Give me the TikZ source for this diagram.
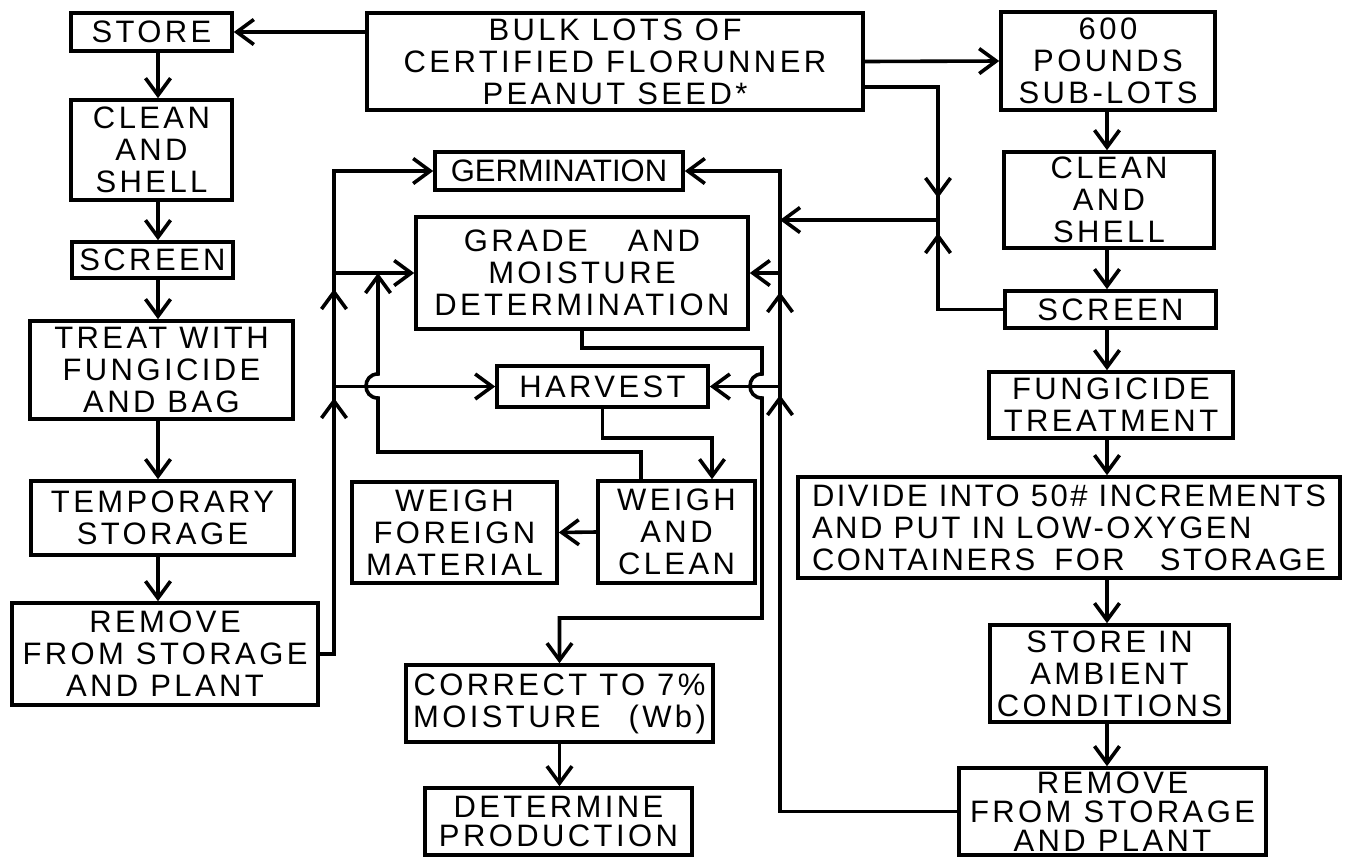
\documentclass[tikz,border=0pt]{standalone}
\usepackage{fontspec}
\setmainfont{Liberation Sans}
\newfontfamily\lt[LetterSpace=11]{Liberation Sans}
\newfontfamily\ltm[LetterSpace=8]{Liberation Sans}
\newfontfamily\ltn{Liberation Sans}
\usetikzlibrary{arrows.meta}
\tikzset{
  box/.style={draw, inner sep=0pt, align=center, font=\lt\fontsize{15.5}{16}\selectfont},
  tight/.style={font=\lt\fontsize{15.5}{14.5}\selectfont},
  arr/.style={-{Straight Barb[length=8.5pt,width=12.5pt]}},
}
\newcommand\bx[7][]{\node[box,#1,minimum width={(#5-#3)*0.5pt},minimum height={(#6-#4)*0.5pt}] (#2) at ({(#3+#5)/2},{(#4+#6)/2}) {#7};}
\begin{document}
\begin{tikzpicture}[x=0.5pt,y=-0.5pt,line width=1.8pt]
\useasboundingbox (0,0) rectangle (1348,858);
% left column
\bx{store}{71}{13}{232}{51}{STORE}
\bx{cleanA}{71}{100}{232}{200}{CLEAN\\AND\\SHELL}
\bx{screenA}{72}{242}{233}{278}{SCREEN}
\bx{treat}{30}{321}{293}{419}{TREAT WITH\\FUNGICIDE\\AND BAG}
\bx{temp}{31}{481}{294}{555}{TEMPORARY\\STORAGE}
\bx{removeA}{12}{603}{318}{705}{REMOVE\\FROM STORAGE\\AND PLANT}
% top
\bx{bulk}{367}{13}{863}{110}{BULK LOTS OF\\CERTIFIED FLORUNNER\\PEANUT SEED*}
\bx{sub}{1001}{12}{1215}{110}{600\\POUNDS\\SUB-LOTS}
% right column
\bx{cleanB}{1004}{152}{1214}{248}{CLEAN\\AND\\SHELL}
\bx{screenB}{1005}{291}{1216}{328}{SCREEN}
\bx{fung}{989}{372}{1233}{438}{FUNGICIDE\\TREATMENT}
\bx[align=left,font=\ltm\fontsize{15.5}{16}\selectfont]{divide}{798}{477}{1340}{578}{DIVIDE INTO 50\# INCREMENTS\\AND PUT IN LOW-OXYGEN\\CONTAINERS\hspace{4pt} FOR\hspace{12pt} STORAGE}
\bx{amb}{990}{625}{1229}{722}{STORE IN\\AMBIENT\\CONDITIONS}
\bx[tight]{removeB}{959}{768}{1266}{855}{REMOVE\\FROM STORAGE\\AND PLANT}
% middle
\bx[font=\ltn\fontsize{15.5}{16}\selectfont]{germ}{435}{152}{683}{190}{GERMINATION}
\bx{grade}{416}{217}{748}{329}{GRADE\hspace{14pt} AND\\MOISTURE\\DETERMINATION}
\bx{harv}{497}{366}{708}{407}{HARVEST}
\bx{wfm}{352}{482}{557}{583}{WEIGH\\FOREIGN\\MATERIAL}
\bx{wac}{598}{481}{755}{583}{WEIGH\\AND\\CLEAN}
\bx{corr}{406}{665}{713}{742}{CORRECT TO 7\%\\MOISTURE\hspace{8pt} (Wb)}
\bx[tight]{det}{425}{788}{692}{855}{DETERMINE\\PRODUCTION}
% helper coordinates
\coordinate (lx) at (158,0);
\coordinate (rc) at (1107,0);
\coordinate (lv) at (334,0);
\coordinate (rx) at (780,0);
\coordinate (jx) at (938,220);
\coordinate (b2) at (863,87);
\coordinate (jdA) at (938,175);
\coordinate (jdB) at (938,198);
\coordinate (juA) at (938,258);
\coordinate (juB) at (938,233);
\coordinate (hw) at (712,438);
\coordinate (w0) at (641,452);
\coordinate (w1) at (378,452);
\coordinate (w2) at (378,398);
\coordinate (w3) at (378,374);
\coordinate (w4) at (378,273);
\coordinate (g1) at (762,348);
\coordinate (g2) at (762,374);
\coordinate (g3) at (762,398);
\coordinate (g4) at (762,618);
\coordinate (laA) at (334,314);
\coordinate (laB) at (334,289);
\coordinate (laC) at (334,422);
\coordinate (laD) at (334,398);
\coordinate (raA) at (780,316);
\coordinate (raB) at (780,292);
\coordinate (raC) at (780,420);
\coordinate (raD) at (780,395);
% left column flow
\draw[arr] (store.south -| lx) -- (cleanA.north -| lx);
\draw[arr] (cleanA.south -| lx) -- (screenA.north -| lx);
\draw[arr] (screenA.south -| lx) -- (treat.north -| lx);
\draw[arr] (treat.south -| lx) -- (temp.north -| lx);
\draw[arr] (temp.south -| lx) -- (removeA.north -| lx);
% top
\draw[arr] (bulk.west |- store.east) -- (store.east);
\draw[arr] (bulk.east) -- (sub.west);
\draw (b2) -| (jx);
\draw[arr] (jdA) -- (jdB);
\draw (screenB.west) -| (jx);
\draw[arr] (juA) -- (juB);
\draw[arr] (jx) -- (jx -| rx);
% right column flow
\draw[arr] (sub.south -| rc) -- (cleanB.north -| rc);
\draw[arr] (cleanB.south -| rc) -- (screenB.north -| rc);
\draw[arr] (screenB.south -| rc) -- (fung.north -| rc);
\draw[arr] (fung.south -| rc) -- (divide.north -| rc);
\draw[arr] (divide.south -| rc) -- (amb.north -| rc);
\draw[arr] (amb.south -| rc) -- (removeB.north -| rc);
% right feedback
\draw[arr] (removeB.west) -| (rx |- germ.east) -- (germ.east);
\draw[arr] (rx |- grade.east) -- (grade.east);
\draw[arr] (rx |- harv.east) -- (harv.east);
\draw[arr] (raA) -- (raB);
\draw[arr] (raC) -- (raD);
% left feedback
\draw[arr] (removeA.east) -| (lv |- germ.west) -- (germ.west);
\draw[arr] (lv |- grade.west) -- (grade.west);
\draw[arr] (lv |- harv.west) -- (harv.west);
\draw[arr] (laA) -- (laB);
\draw[arr] (laC) -- (laD);
% weigh and clean back to grade
\draw[arr] (wac.north -| w0) -- (w0) -- (w1) -- (w2) .. controls (362,398) and (362,374) .. (w3) -- (w4);
% harvest to weigh and clean
\draw[arr] (harv.south) |- (hw) -- (wac.north -| hw);
\draw[arr] (wac.west) -- (wfm.east);
% grade to correct
\draw[arr] (grade.south) |- (g1) -- (g2) .. controls (746,374) and (746,398) .. (g3) -- (g4) -| (corr.north);
\draw[arr] (corr.south) -- (corr.south |- det.north);
\end{tikzpicture}
\end{document}
